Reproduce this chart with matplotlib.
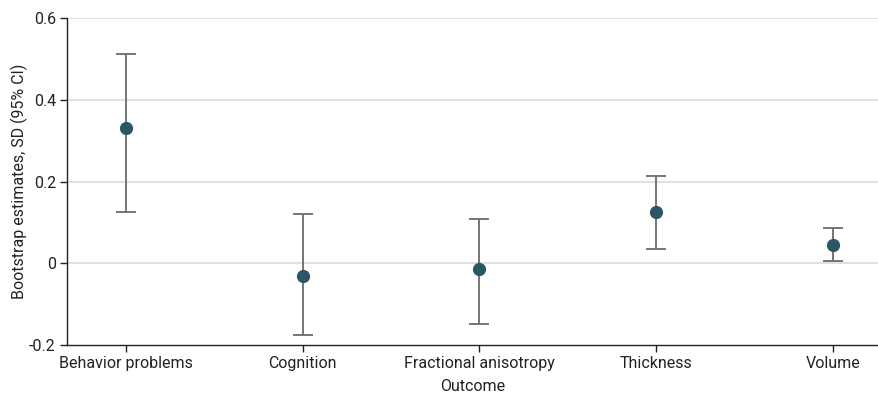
import matplotlib
matplotlib.use("Agg")
import matplotlib.pyplot as plt

categories = ["Behavior problems", "Cognition", "Fractional anisotropy", "Thickness", "Volume"]
estimates = [0.331, -0.031, -0.015, 0.125, 0.044]
ci_lower = [0.125, -0.176, -0.149, 0.036, 0.006]
ci_upper = [0.513, 0.121, 0.109, 0.214, 0.086]
ytick_vals = [-0.2, 0, 0.2, 0.4, 0.6]
ytick_labels = ["-0.2", "0", "0.2", "0.4", "0.6"]

plt.rcParams['font.family'] = ['Roboto', 'DejaVu Sans']

fig = plt.figure(figsize=(8.79, 3.93), dpi=100)
ax = fig.add_axes([67/879, 48/393, 1 - 67/879, 327/393])

x = list(range(len(categories)))
yerr = [[e - l for e, l in zip(estimates, ci_lower)], [u - e for e, u in zip(estimates, ci_upper)]]
ax.errorbar(x, estimates, yerr=yerr, fmt='none', ecolor='#6b6b6b', elinewidth=1.3,
            capsize=7, capthick=1.3, zorder=2)
ax.plot(x, estimates, 'o', color='#2b5666', markersize=8.5, zorder=3)

ax.set_ylim(-0.2, 0.6)
ax.set_xlim(-0.334, 4.262)
ax.set_yticks(ytick_vals)
ax.set_yticklabels(ytick_labels)
ax.set_xticks(x)
ax.set_xticklabels(categories)
for v in ytick_vals[1:]:
    ax.axhline(v, color='#dcdcdc', lw=1.2, zorder=1)

for s in ['top', 'right']:
    ax.spines[s].set_visible(False)
for s in ['left', 'bottom']:
    ax.spines[s].set_color('#222222')
    ax.spines[s].set_linewidth(1.0)
ax.tick_params(axis='both', direction='out', length=5, width=1.0, color='#222222',
               labelsize=11.5, labelcolor='#222222', pad=3)
ax.set_ylabel("Bootstrap estimates, SD (95% CI)", fontsize=11.5, color='#222222', labelpad=1)
ax.set_xlabel("Outcome", fontsize=11.5, color='#222222', labelpad=6)

fig.savefig("out.png", dpi=100)
